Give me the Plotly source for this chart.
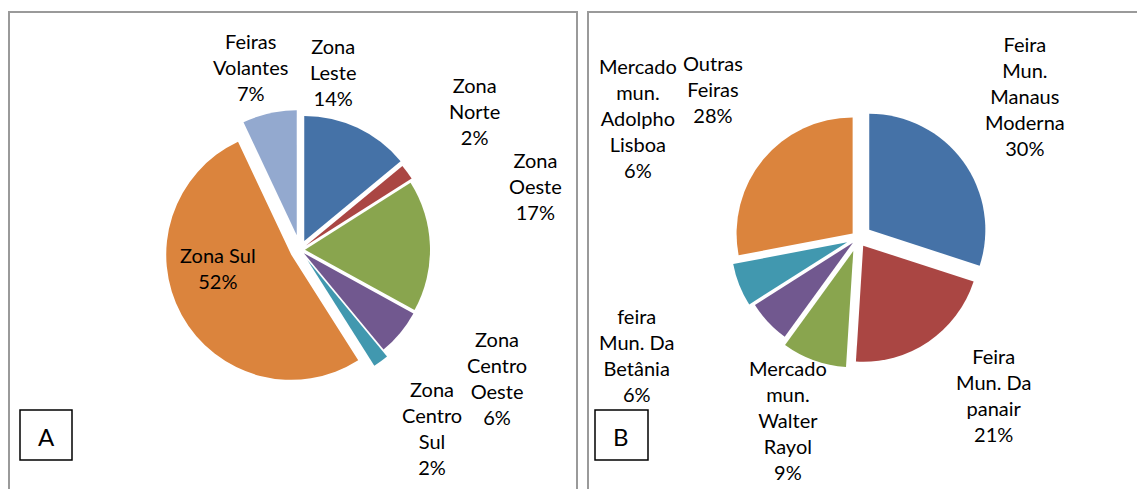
import plotly.graph_objects as go

# Panel A
labels_a = ["Zona Leste", "Zona Norte", "Zona Oeste", "Zona Centro Oeste",
            "Zona Centro Sul", "Zona Sul", "Feiras Volantes"]
text_a = ["Zona<br>Leste", "Zona<br>Norte", "Zona<br>Oeste", "Zona<br>Centro<br>Oeste",
          "Zona<br>Centro<br>Sul", "Zona Sul", "Feiras<br>Volantes"]
values_a = [14, 2, 17, 6, 2, 52, 7]
colors_a = ["#4572A7", "#AA4643", "#89A54E", "#71588F", "#4198AF", "#DB843D", "#93A9CF"]
pull_a = [0.08, 0.06, 0.04, 0.04, 0.1, 0.08, 0.12]
# label anchor (pixel) positions
lab_a_x = [333, 475, 535, 497, 432, 218, 250]
lab_a_y = [72, 111, 186, 378, 428, 268, 67]

# Panel B
labels_b = ["Feira Mun. Manaus Moderna", "Feira Mun. Da panair", "Mercado mun. Walter Rayol",
            "feira Mun. Da Betânia", "Mercado mun. Adolpho Lisboa", "Outras Feiras"]
text_b = ["Feira<br>Mun.<br>Manaus<br>Moderna", "Feira<br>Mun. Da<br>panair",
          "Mercado<br>mun.<br>Walter<br>Rayol", "feira<br>Mun. Da<br>Betânia",
          "Mercado<br>mun.<br>Adolpho<br>Lisboa", "Outras<br>Feiras"]
values_b = [30, 21, 9, 6, 6, 28]
colors_b = ["#4572A7", "#AA4643", "#89A54E", "#71588F", "#4198AF", "#DB843D"]
pull_b = [0.12, 0.08, 0.12, 0.06, 0.1, 0.06]
lab_b_x = [1025, 993, 788, 636, 638, 713]
lab_b_y = [96, 395, 420, 355, 118, 89]

FONT = "Lato"
W, H = 1145, 489
OFF = 8  # page body margin offset
def px(x): return (x - OFF) / W
def py(y): return 1 - (y - OFF) / H

fig = go.Figure()
fig.add_trace(go.Pie(
    labels=labels_a, values=values_a, sort=False, direction="clockwise",
    rotation=0, pull=pull_a, marker=dict(colors=colors_a, line=dict(width=0)),
    textinfo="none",
    domain=dict(x=[px(300 - 140), px(300 + 140)], y=[py(250 + 140), py(250 - 140)]),
    showlegend=False, hoverinfo="label+percent",
))
fig.add_trace(go.Pie(
    labels=labels_b, values=values_b, sort=False, direction="clockwise",
    rotation=0, pull=pull_b, marker=dict(colors=colors_b, line=dict(width=0)),
    textinfo="none",
    domain=dict(x=[px(858 - 130), px(858 + 130)], y=[py(238 + 130), py(238 - 130)]),
    showlegend=False, hoverinfo="label+percent",
))

annotations = []
tot_a = sum(values_a)
for t, v, x, y in zip(text_a, values_a, lab_a_x, lab_a_y):
    annotations.append(dict(text=f"{t}<br>{round(100 * v / tot_a)}%", x=px(x), y=py(y),
                            xref="paper", yref="paper", showarrow=False, align="center",
                            xanchor="center", yanchor="middle",
                            font=dict(family=FONT, size=20, color="black")))
tot_b = sum(values_b)
for t, v, x, y in zip(text_b, values_b, lab_b_x, lab_b_y):
    annotations.append(dict(text=f"{t}<br>{round(100 * v / tot_b)}%", x=px(x), y=py(y),
                            xref="paper", yref="paper", showarrow=False, align="center",
                            xanchor="center", yanchor="middle",
                            font=dict(family=FONT, size=20, color="black")))

shapes = [
    dict(type="rect", xref="paper", yref="paper", x0=px(9), x1=px(577), y0=py(500), y1=py(12),
         line=dict(color="#9a9a9a", width=2)),
    dict(type="rect", xref="paper", yref="paper", x0=px(588), x1=px(1160), y0=py(500), y1=py(12),
         line=dict(color="#9a9a9a", width=2)),
    dict(type="rect", xref="paper", yref="paper", x0=px(20), x1=px(72), y0=py(460), y1=py(410),
         line=dict(color="black", width=1.5)),
    dict(type="rect", xref="paper", yref="paper", x0=px(595), x1=px(648), y0=py(460), y1=py(410),
         line=dict(color="black", width=1.5)),
]
annotations += [
    dict(text="A", x=px(46), y=py(436), xref="paper", yref="paper", showarrow=False,
         xanchor="center", yanchor="middle", font=dict(family=FONT, size=24, color="black")),
    dict(text="B", x=px(621), y=py(436), xref="paper", yref="paper", showarrow=False,
         xanchor="center", yanchor="middle", font=dict(family=FONT, size=24, color="black")),
]

fig.update_layout(width=W, height=H, margin=dict(l=0, r=0, t=0, b=0, autoexpand=False),
                  paper_bgcolor="white", plot_bgcolor="white",
                  shapes=shapes, annotations=annotations, font=dict(family=FONT))
fig.write_html("out.html")
